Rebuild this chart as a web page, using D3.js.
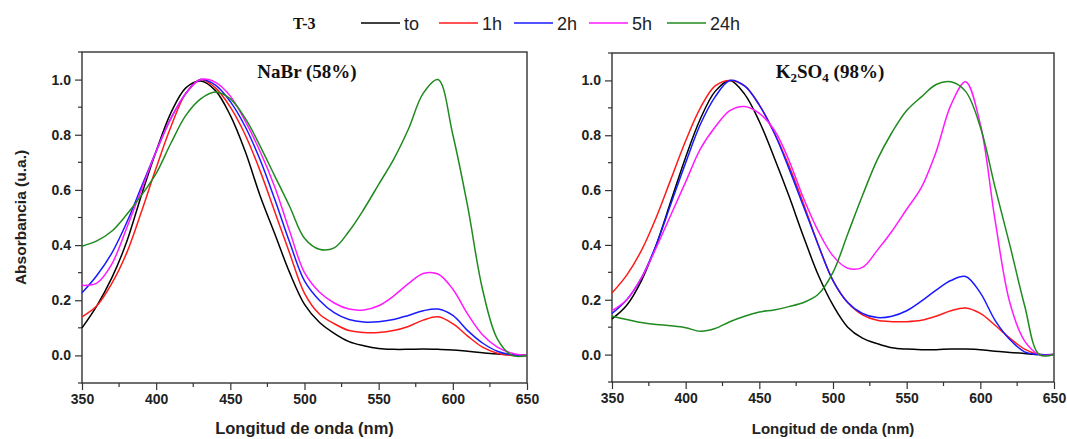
<!DOCTYPE html>
<html><head><meta charset="utf-8">
<script src="https://cdn.jsdelivr.net/npm/d3@7"></script>
<style>
html,body{margin:0;padding:0;background:#fff;}
svg{display:block;}
</style></head>
<body>
<svg id="chart" width="1067" height="439"></svg>
<script>
// ---- data ----
const wavelengths = [350,360,370,380,390,400,410,420,430,440,450,460,470,480,490,500,510,520,530,540,550,560,570,580,590,600,610,620,630,640,650];
const seriesLabels = ["to","1h","2h","5h","24h"];
const seriesColors = ["#000000","#ff1a1a","#1a1aff","#ff1aff","#1f8a1f"];
const xTicks = [350,400,450,500,550,600,650];
const yTicks = [0.0,0.2,0.4,0.6,0.8,1.0];

// NaBr (58%)
const nabrTo  = [0.10,0.18,0.28,0.41,0.58,0.74,0.88,0.97,0.995,0.96,0.87,0.74,0.58,0.44,0.30,0.185,0.12,0.08,0.05,0.035,0.025,0.022,0.022,0.023,0.022,0.02,0.015,0.01,0.005,0.002,0.0];
const nabr1h  = [0.14,0.18,0.26,0.37,0.52,0.68,0.83,0.95,1.0,0.97,0.90,0.80,0.67,0.52,0.37,0.225,0.15,0.115,0.09,0.083,0.083,0.09,0.105,0.128,0.14,0.115,0.07,0.03,0.008,0.0,0.0];
const nabr2h  = [0.227,0.29,0.37,0.48,0.61,0.74,0.86,0.95,1.0,0.98,0.92,0.83,0.71,0.565,0.41,0.27,0.20,0.155,0.13,0.121,0.122,0.13,0.145,0.162,0.168,0.145,0.09,0.045,0.015,0.002,0.0];
const nabr5h  = [0.254,0.262,0.33,0.46,0.60,0.74,0.86,0.95,1.0,0.99,0.94,0.85,0.74,0.61,0.45,0.30,0.23,0.19,0.168,0.165,0.18,0.215,0.26,0.297,0.295,0.24,0.15,0.075,0.03,0.008,0.0];
const nabr24h = [0.396,0.415,0.45,0.51,0.58,0.66,0.77,0.87,0.93,0.955,0.93,0.86,0.76,0.65,0.54,0.425,0.385,0.39,0.45,0.53,0.62,0.71,0.82,0.95,1.0,0.80,0.54,0.24,0.06,0.0,0.0];

// K2SO4 (98%)
const k2so4To  = [0.13,0.18,0.27,0.40,0.56,0.72,0.86,0.96,1.0,0.95,0.85,0.72,0.58,0.43,0.29,0.18,0.10,0.06,0.04,0.025,0.02,0.018,0.018,0.02,0.02,0.018,0.012,0.008,0.004,0.0,0.0];
const k2so41h  = [0.225,0.29,0.38,0.50,0.64,0.78,0.90,0.98,1.0,0.98,0.91,0.81,0.69,0.55,0.40,0.27,0.19,0.145,0.125,0.12,0.12,0.125,0.14,0.16,0.17,0.15,0.107,0.06,0.02,0.0,0.0];
const k2so42h  = [0.15,0.20,0.28,0.40,0.55,0.70,0.84,0.94,1.0,0.98,0.91,0.81,0.68,0.54,0.40,0.27,0.19,0.15,0.135,0.14,0.16,0.195,0.235,0.27,0.285,0.225,0.125,0.055,0.01,0.0,0.0];
const k2so45h  = [0.16,0.20,0.28,0.39,0.51,0.63,0.75,0.83,0.89,0.905,0.88,0.82,0.71,0.57,0.45,0.36,0.315,0.318,0.38,0.45,0.53,0.61,0.74,0.91,0.995,0.84,0.49,0.19,0.05,0.0,0.0];
const k2so424h = [0.14,0.128,0.117,0.11,0.105,0.098,0.085,0.095,0.12,0.14,0.155,0.163,0.175,0.19,0.22,0.30,0.44,0.58,0.71,0.81,0.89,0.94,0.985,0.995,0.96,0.83,0.61,0.40,0.18,0.0,0.0];

const panels = [
  {title:"NaBr (58%)", series:[nabrTo,nabr1h,nabr2h,nabr5h,nabr24h],
   x0:82, x1:527, y0:383, y1:52, ylabX:21, ylabSize:15.5, xlabSize:16.5, clipYLab:false},
  {title:"K2SO4 (98%)", series:[k2so4To,k2so41h,k2so42h,k2so45h,k2so424h],
   x0:612, x1:1054, y0:382, y1:53, ylabX:556, ylabSize:14.5, xlabSize:15, clipYLab:true}
];

const svg = d3.select("#chart");
const defs = svg.append("defs");
defs.append("clipPath").attr("id","ylabclip").append("rect")
  .attr("x",550).attr("y",0).attr("width",40).attr("height",439);

panels.forEach((p,pi) => {
  const x = d3.scaleLinear().domain([350,650]).range([p.x0,p.x1]);
  const y = d3.scaleLinear().domain([-0.1,1.1]).range([p.y0,p.y1]);
  const g = svg.append("g");

  // minor ticks
  const xMinor = d3.range(375,650,50);
  const yMinor = [-0.1,0.1,0.3,0.5,0.7,0.9,1.1];
  g.selectAll(".xmin").data(xMinor).enter().append("line")
    .attr("x1",d=>x(d)).attr("x2",d=>x(d)).attr("y1",p.y0).attr("y2",p.y0+4)
    .attr("stroke","#333").attr("stroke-width",1.2);
  g.selectAll(".ymin").data(yMinor).enter().append("line")
    .attr("x1",p.x0-4).attr("x2",p.x0).attr("y1",d=>y(d)).attr("y2",d=>y(d))
    .attr("stroke","#333").attr("stroke-width",1.2);

  // axes
  const xAxis = d3.axisBottom(x).tickValues(xTicks).tickSize(7).tickPadding(4).tickFormat(d3.format("d"));
  const yAxis = d3.axisLeft(y).tickValues(yTicks).tickSize(7).tickPadding(4).tickFormat(d3.format(".1f"));
  const gx = g.append("g").attr("transform",`translate(0,${p.y0})`).call(xAxis);
  const gy = g.append("g").attr("transform",`translate(${p.x0},0)`).call(yAxis);
  [gx,gy].forEach(a=>{
    a.select(".domain").remove();
    a.selectAll("line").attr("stroke","#333").attr("stroke-width",1.2);
    a.selectAll("text").attr("font-family","Liberation Sans, Arial, sans-serif")
      .attr("font-weight","bold").attr("font-size",14).attr("fill","#222");
  });

  // frame
  g.append("rect").attr("x",p.x0).attr("y",p.y1).attr("width",p.x1-p.x0).attr("height",p.y0-p.y1)
    .attr("fill","none").attr("stroke","#333").attr("stroke-width",1.4);

  // curves
  const line = d3.line().x((d,i)=>x(wavelengths[i])).y(d=>y(d)).curve(d3.curveCatmullRom.alpha(0.5));
  p.series.forEach((s,si)=>{
    g.append("path").datum(s).attr("d",line).attr("fill","none")
      .attr("stroke",seriesColors[si]).attr("stroke-width",1.5);
  });

  // panel title
  const t = g.append("text").attr("x",(pi===0)?307:830).attr("y",78).attr("text-anchor","middle")
    .attr("font-family","Liberation Serif, serif").attr("font-weight","bold").attr("font-size",19).attr("fill","#111");
  if(pi===0){ t.text(p.title); }
  else {
    t.append("tspan").text("K");
    t.append("tspan").attr("font-size",13).attr("dy",4).text("2");
    t.append("tspan").attr("dy",-4).text("SO");
    t.append("tspan").attr("font-size",13).attr("dy",4).text("4");
    t.append("tspan").attr("dy",-4).text(" (98%)");
  }

  // axis titles
  g.append("text").attr("x",(p.x0+p.x1)/2).attr("y",434).attr("text-anchor","middle")
    .attr("font-family","Liberation Sans, Arial, sans-serif").attr("font-weight","bold")
    .attr("font-size",p.xlabSize).attr("fill","#222").text("Longitud de onda (nm)");
  const yl = g.append("text").attr("transform",`translate(${p.ylabX},${y(0.5)}) rotate(-90)`)
    .attr("text-anchor","middle").attr("dy","0.35em")
    .attr("font-family","Liberation Sans, Arial, sans-serif").attr("font-weight","bold")
    .attr("font-size",p.ylabSize).attr("fill","#222").text("Absorbancia (u.a.)");
  if(p.clipYLab) yl.attr("clip-path","url(#ylabclip)");
});

// legend
const lg = svg.append("g");
lg.append("text").attr("x",293).attr("y",29).attr("font-family","Liberation Serif, serif")
  .attr("font-weight","bold").attr("font-size",16).attr("fill","#111").text("T-3");
const legX = [361,439,514,589,667];
seriesLabels.forEach((lab,i)=>{
  lg.append("line").attr("x1",legX[i]).attr("x2",legX[i]+39).attr("y1",23).attr("y2",23)
    .attr("stroke",seriesColors[i]).attr("stroke-width",1.6);
  lg.append("text").attr("x",legX[i]+43).attr("y",30).attr("font-family","Liberation Sans, Arial, sans-serif")
    .attr("font-size",18).attr("fill","#222").text(lab);
});
</script>
</body></html>
